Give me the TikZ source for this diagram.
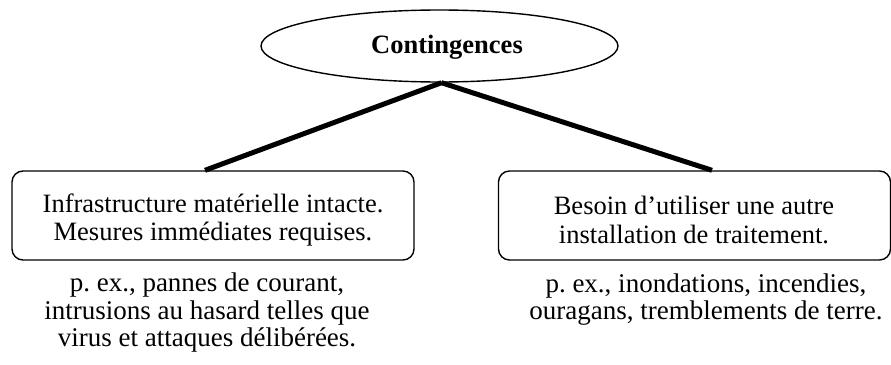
\documentclass[tikz,border=0pt]{standalone}
\usepackage{fontspec}
\setmainfont{Liberation Serif}
\frenchspacing
\usetikzlibrary{shapes.geometric}
\begin{document}
\begin{tikzpicture}[x=1pt,y=-1pt,
  txt/.style={font=\fontsize{26.5}{28.5}\selectfont, align=center, inner sep=0pt},
  note/.style={font=\fontsize{27}{27.5}\selectfont, align=center, inner sep=0pt},
  box/.style={draw, line width=1.4pt, rounded corners=11pt, minimum width=402pt, minimum height=89pt, inner sep=0pt},
  link/.style={line width=5pt}]
\useasboundingbox (0,0) rectangle (891,364);
\node[ellipse, draw, line width=1.4pt, minimum width=357pt, minimum height=72pt, inner sep=0pt] (ell) at (439.5,46) {};
\node[txt, font=\fontsize{26.5}{28}\selectfont\bfseries] (title) at (447,47) {Contingences};
\node[box] (lb) at (213,215.5) {};
\node[box, minimum width=392pt] (rb) at (694.5,215.5) {};
\node[txt] (lt) at (213,220) {Infrastructure matérielle intacte.\\Mesures immédiates requises.};
\node[txt] (rt) at (694,220) {Besoin d’utiliser une autre\\installation de traitement.};
\node[note] (ln) at (207,313) {p. ex., pannes de courant,\\intrusions au hasard telles que\\virus et attaques délibérées.};
\node[note] (rn) at (706,299.5) {p. ex., inondations, incendies,\\ouragans, tremblements de terre.};
\coordinate (top) at ([xshift=2pt]ell.south);
\draw[link] (top) -- ([xshift=-8pt]lb.north);
\draw[link] (top) -- ([xshift=17.5pt]rb.north);
\end{tikzpicture}
\end{document}
